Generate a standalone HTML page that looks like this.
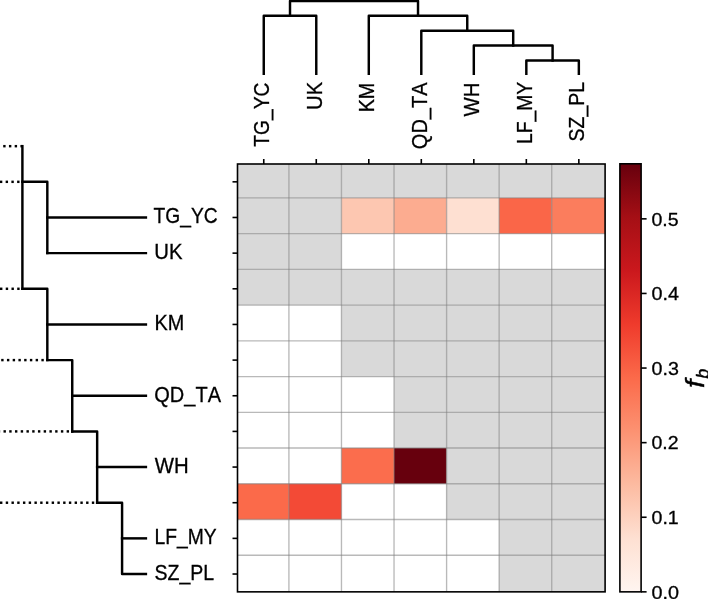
<!DOCTYPE html>
<html><head><meta charset="utf-8"><style>
html,body{margin:0;padding:0;background:#fff;width:708px;height:599px;overflow:hidden}
svg{display:block;position:absolute;left:0;top:0;will-change:transform}
text{font-family:"Liberation Sans",sans-serif;font-kerning:none;font-feature-settings:"kern" 0;}
</style></head><body>
<svg width="708" height="599" viewBox="0 0 708 599">
<rect x="0" y="0" width="708" height="599" fill="#ffffff"/>
<g>
<rect x="237.50" y="164.00" width="51.41" height="33.93" fill="#d9d9d9"/>
<rect x="288.91" y="164.00" width="52.56" height="33.93" fill="#d9d9d9"/>
<rect x="341.47" y="164.00" width="52.56" height="33.93" fill="#d9d9d9"/>
<rect x="394.03" y="164.00" width="52.56" height="33.93" fill="#d9d9d9"/>
<rect x="446.59" y="164.00" width="52.56" height="33.93" fill="#d9d9d9"/>
<rect x="499.15" y="164.00" width="52.56" height="33.93" fill="#d9d9d9"/>
<rect x="551.71" y="164.00" width="53.39" height="33.93" fill="#d9d9d9"/>
<rect x="237.50" y="197.93" width="51.41" height="35.73" fill="#d9d9d9"/>
<rect x="288.91" y="197.93" width="52.56" height="35.73" fill="#d9d9d9"/>
<rect x="341.47" y="197.93" width="52.56" height="35.73" fill="#fdc7b1"/>
<rect x="394.03" y="197.93" width="52.56" height="35.73" fill="#fcac90"/>
<rect x="446.59" y="197.93" width="52.56" height="35.73" fill="#fee0d2"/>
<rect x="499.15" y="197.93" width="52.56" height="35.73" fill="#fa6648"/>
<rect x="551.71" y="197.93" width="53.39" height="35.73" fill="#fb7d5d"/>
<rect x="237.50" y="233.66" width="51.41" height="35.73" fill="#d9d9d9"/>
<rect x="288.91" y="233.66" width="52.56" height="35.73" fill="#d9d9d9"/>
<rect x="237.50" y="269.39" width="51.41" height="35.73" fill="#d9d9d9"/>
<rect x="288.91" y="269.39" width="52.56" height="35.73" fill="#d9d9d9"/>
<rect x="341.47" y="269.39" width="52.56" height="35.73" fill="#d9d9d9"/>
<rect x="394.03" y="269.39" width="52.56" height="35.73" fill="#d9d9d9"/>
<rect x="446.59" y="269.39" width="52.56" height="35.73" fill="#d9d9d9"/>
<rect x="499.15" y="269.39" width="52.56" height="35.73" fill="#d9d9d9"/>
<rect x="551.71" y="269.39" width="53.39" height="35.73" fill="#d9d9d9"/>
<rect x="341.47" y="305.12" width="52.56" height="35.73" fill="#d9d9d9"/>
<rect x="394.03" y="305.12" width="52.56" height="35.73" fill="#d9d9d9"/>
<rect x="446.59" y="305.12" width="52.56" height="35.73" fill="#d9d9d9"/>
<rect x="499.15" y="305.12" width="52.56" height="35.73" fill="#d9d9d9"/>
<rect x="551.71" y="305.12" width="53.39" height="35.73" fill="#d9d9d9"/>
<rect x="341.47" y="340.85" width="52.56" height="35.73" fill="#d9d9d9"/>
<rect x="394.03" y="340.85" width="52.56" height="35.73" fill="#d9d9d9"/>
<rect x="446.59" y="340.85" width="52.56" height="35.73" fill="#d9d9d9"/>
<rect x="499.15" y="340.85" width="52.56" height="35.73" fill="#d9d9d9"/>
<rect x="551.71" y="340.85" width="53.39" height="35.73" fill="#d9d9d9"/>
<rect x="394.03" y="376.58" width="52.56" height="35.73" fill="#d9d9d9"/>
<rect x="446.59" y="376.58" width="52.56" height="35.73" fill="#d9d9d9"/>
<rect x="499.15" y="376.58" width="52.56" height="35.73" fill="#d9d9d9"/>
<rect x="551.71" y="376.58" width="53.39" height="35.73" fill="#d9d9d9"/>
<rect x="394.03" y="412.31" width="52.56" height="35.73" fill="#d9d9d9"/>
<rect x="446.59" y="412.31" width="52.56" height="35.73" fill="#d9d9d9"/>
<rect x="499.15" y="412.31" width="52.56" height="35.73" fill="#d9d9d9"/>
<rect x="551.71" y="412.31" width="53.39" height="35.73" fill="#d9d9d9"/>
<rect x="341.47" y="448.04" width="52.56" height="35.73" fill="#fb6d4d"/>
<rect x="394.03" y="448.04" width="52.56" height="35.73" fill="#67000d"/>
<rect x="446.59" y="448.04" width="52.56" height="35.73" fill="#d9d9d9"/>
<rect x="499.15" y="448.04" width="52.56" height="35.73" fill="#d9d9d9"/>
<rect x="551.71" y="448.04" width="53.39" height="35.73" fill="#d9d9d9"/>
<rect x="237.50" y="483.77" width="51.41" height="35.73" fill="#fb6a4a"/>
<rect x="288.91" y="483.77" width="52.56" height="35.73" fill="#f34a36"/>
<rect x="446.59" y="483.77" width="52.56" height="35.73" fill="#d9d9d9"/>
<rect x="499.15" y="483.77" width="52.56" height="35.73" fill="#d9d9d9"/>
<rect x="551.71" y="483.77" width="53.39" height="35.73" fill="#d9d9d9"/>
<rect x="499.15" y="519.50" width="52.56" height="35.73" fill="#d9d9d9"/>
<rect x="551.71" y="519.50" width="53.39" height="35.73" fill="#d9d9d9"/>
<rect x="499.15" y="555.23" width="52.56" height="36.62" fill="#d9d9d9"/>
<rect x="551.71" y="555.23" width="53.39" height="36.62" fill="#d9d9d9"/>
</g>
<g stroke="rgba(128,128,128,0.55)" stroke-width="1.35" fill="none">
<line x1="288.91" y1="164.00" x2="288.91" y2="591.85"/>
<line x1="341.47" y1="164.00" x2="341.47" y2="591.85"/>
<line x1="394.03" y1="164.00" x2="394.03" y2="591.85"/>
<line x1="446.59" y1="164.00" x2="446.59" y2="591.85"/>
<line x1="499.15" y1="164.00" x2="499.15" y2="591.85"/>
<line x1="551.71" y1="164.00" x2="551.71" y2="591.85"/>
<line x1="237.50" y1="197.93" x2="605.10" y2="197.93"/>
<line x1="237.50" y1="233.66" x2="605.10" y2="233.66"/>
<line x1="237.50" y1="269.39" x2="605.10" y2="269.39"/>
<line x1="237.50" y1="305.12" x2="605.10" y2="305.12"/>
<line x1="237.50" y1="340.85" x2="605.10" y2="340.85"/>
<line x1="237.50" y1="376.58" x2="605.10" y2="376.58"/>
<line x1="237.50" y1="412.31" x2="605.10" y2="412.31"/>
<line x1="237.50" y1="448.04" x2="605.10" y2="448.04"/>
<line x1="237.50" y1="483.77" x2="605.10" y2="483.77"/>
<line x1="237.50" y1="519.50" x2="605.10" y2="519.50"/>
<line x1="237.50" y1="555.23" x2="605.10" y2="555.23"/>
</g>
<rect x="237.50" y="164.00" width="367.60" height="427.85" fill="none" stroke="#000" stroke-width="1.60"/>
<g stroke="#000" stroke-width="1.60">
<line x1="263.76" y1="164.00" x2="263.76" y2="159.00"/>
<line x1="316.27" y1="164.00" x2="316.27" y2="159.00"/>
<line x1="368.79" y1="164.00" x2="368.79" y2="159.00"/>
<line x1="421.30" y1="164.00" x2="421.30" y2="159.00"/>
<line x1="473.81" y1="164.00" x2="473.81" y2="159.00"/>
<line x1="526.33" y1="164.00" x2="526.33" y2="159.00"/>
<line x1="578.84" y1="164.00" x2="578.84" y2="159.00"/>
<line x1="237.50" y1="181.83" x2="232.50" y2="181.83"/>
<line x1="237.50" y1="217.48" x2="232.50" y2="217.48"/>
<line x1="237.50" y1="253.14" x2="232.50" y2="253.14"/>
<line x1="237.50" y1="288.79" x2="232.50" y2="288.79"/>
<line x1="237.50" y1="324.44" x2="232.50" y2="324.44"/>
<line x1="237.50" y1="360.10" x2="232.50" y2="360.10"/>
<line x1="237.50" y1="395.75" x2="232.50" y2="395.75"/>
<line x1="237.50" y1="431.41" x2="232.50" y2="431.41"/>
<line x1="237.50" y1="467.06" x2="232.50" y2="467.06"/>
<line x1="237.50" y1="502.71" x2="232.50" y2="502.71"/>
<line x1="237.50" y1="538.37" x2="232.50" y2="538.37"/>
<line x1="237.50" y1="574.02" x2="232.50" y2="574.02"/>
</g>
<g stroke="#000" stroke-width="2.45" fill="none" stroke-linecap="square" stroke-linejoin="round">
<polyline points="526.33,73.80 526.33,60.50 578.84,60.50 578.84,73.80"/>
<polyline points="473.81,73.80 473.81,45.55 552.59,45.55 552.59,60.50"/>
<polyline points="421.30,73.80 421.30,30.65 513.20,30.65 513.20,45.55"/>
<polyline points="368.79,73.80 368.79,15.75 467.25,15.75 467.25,30.65"/>
<polyline points="263.76,73.80 263.76,15.75 316.27,15.75 316.27,73.80"/>
<polyline points="290.01,15.75 290.01,0.90 418.02,0.90 418.02,15.75"/>
</g>
<g stroke="#000" stroke-width="2.45" fill="none" stroke-linecap="square" stroke-linejoin="round">
<polyline points="22.40,146.17 22.40,288.79"/>
<polyline points="22.40,181.83 47.32,181.83 47.32,253.14"/>
<polyline points="47.32,217.48 145.90,217.48"/>
<polyline points="47.32,253.14 145.90,253.14"/>
<polyline points="22.40,288.79 47.32,288.79 47.32,360.10"/>
<polyline points="47.32,324.44 145.90,324.44"/>
<polyline points="47.32,360.10 72.24,360.10 72.24,431.41"/>
<polyline points="72.24,395.75 145.90,395.75"/>
<polyline points="72.24,431.41 97.16,431.41 97.16,502.71"/>
<polyline points="97.16,467.06 145.90,467.06"/>
<polyline points="97.16,502.71 122.08,502.71 122.08,574.02 145.90,574.02"/>
<polyline points="122.08,538.37 145.90,538.37"/>
</g>
<g fill="#000">
<rect x="3.20" y="144.95" width="2.40" height="2.45"/><rect x="8.94" y="144.95" width="2.40" height="2.45"/><rect x="14.68" y="144.95" width="2.40" height="2.45"/><rect x="20.42" y="144.95" width="1.98" height="2.45"/>
<rect x="0.00" y="180.60" width="2.30" height="2.45"/><rect x="5.64" y="180.60" width="2.40" height="2.45"/><rect x="11.38" y="180.60" width="2.40" height="2.45"/><rect x="17.12" y="180.60" width="2.40" height="2.45"/>
<rect x="0.00" y="287.56" width="2.40" height="2.45"/><rect x="5.74" y="287.56" width="2.40" height="2.45"/><rect x="11.48" y="287.56" width="2.40" height="2.45"/><rect x="17.22" y="287.56" width="2.40" height="2.45"/>
<rect x="1.20" y="358.87" width="2.40" height="2.45"/><rect x="6.94" y="358.87" width="2.40" height="2.45"/><rect x="12.68" y="358.87" width="2.40" height="2.45"/><rect x="18.42" y="358.87" width="2.40" height="2.45"/><rect x="24.16" y="358.87" width="2.40" height="2.45"/><rect x="29.90" y="358.87" width="2.40" height="2.45"/><rect x="35.64" y="358.87" width="2.40" height="2.45"/><rect x="41.38" y="358.87" width="2.40" height="2.45"/>
<rect x="0.00" y="430.18" width="0.16" height="2.45"/><rect x="3.50" y="430.18" width="2.40" height="2.45"/><rect x="9.24" y="430.18" width="2.40" height="2.45"/><rect x="14.98" y="430.18" width="2.40" height="2.45"/><rect x="20.72" y="430.18" width="2.40" height="2.45"/><rect x="26.46" y="430.18" width="2.40" height="2.45"/><rect x="32.20" y="430.18" width="2.40" height="2.45"/><rect x="37.94" y="430.18" width="2.40" height="2.45"/><rect x="43.68" y="430.18" width="2.40" height="2.45"/><rect x="49.42" y="430.18" width="2.40" height="2.45"/><rect x="55.16" y="430.18" width="2.40" height="2.45"/><rect x="60.90" y="430.18" width="2.40" height="2.45"/><rect x="66.64" y="430.18" width="2.40" height="2.45"/>
<rect x="0.00" y="501.49" width="2.40" height="2.45"/><rect x="5.74" y="501.49" width="2.40" height="2.45"/><rect x="11.48" y="501.49" width="2.40" height="2.45"/><rect x="17.22" y="501.49" width="2.40" height="2.45"/><rect x="22.96" y="501.49" width="2.40" height="2.45"/><rect x="28.70" y="501.49" width="2.40" height="2.45"/><rect x="34.44" y="501.49" width="2.40" height="2.45"/><rect x="40.18" y="501.49" width="2.40" height="2.45"/><rect x="45.92" y="501.49" width="2.40" height="2.45"/><rect x="51.66" y="501.49" width="2.40" height="2.45"/><rect x="57.40" y="501.49" width="2.40" height="2.45"/><rect x="63.14" y="501.49" width="2.40" height="2.45"/><rect x="68.88" y="501.49" width="2.40" height="2.45"/><rect x="74.62" y="501.49" width="2.40" height="2.45"/><rect x="80.36" y="501.49" width="2.40" height="2.45"/><rect x="86.10" y="501.49" width="2.40" height="2.45"/><rect x="91.84" y="501.49" width="2.40" height="2.45"/>
</g>
<g font-family="Liberation Sans, sans-serif" fill="#000" stroke="#000" stroke-width="0.3">
<text transform="translate(269.06,82.30) rotate(-90) translate(-64.39,0) scale(0.9063,1)" font-size="21.19">TG_YC</text>
<text transform="translate(321.57,82.30) rotate(-90) translate(-27.58,0) scale(0.9590,1)" font-size="21.19">UK</text>
<text transform="translate(374.09,82.30) rotate(-90) translate(-30.03,0) scale(0.9344,1)" font-size="21.19">KM</text>
<text transform="translate(426.60,82.30) rotate(-90) translate(-66.87,0) scale(0.9446,1)" font-size="21.19">QD_TA</text>
<text transform="translate(479.11,82.30) rotate(-90) translate(-34.24,0) scale(0.9613,1)" font-size="21.19">WH</text>
<text transform="translate(531.63,82.30) rotate(-90) translate(-61.74,0) scale(0.9107,1)" font-size="21.19">LF_MY</text>
<text transform="translate(584.14,82.30) rotate(-90) translate(-59.17,0) scale(0.9216,1)" font-size="21.19">SZ_PL</text>
<text transform="translate(153.61,223.28) scale(0.9063,1)" font-size="21.19">TG_YC</text>
<text transform="translate(154.27,258.94) scale(0.9590,1)" font-size="21.19">UK</text>
<text transform="translate(154.44,330.24) scale(0.9344,1)" font-size="21.19">KM</text>
<text transform="translate(154.27,401.55) scale(0.9446,1)" font-size="21.19">QD_TA</text>
<text transform="translate(154.67,472.86) scale(0.9613,1)" font-size="21.19">WH</text>
<text transform="translate(154.48,544.17) scale(0.9107,1)" font-size="21.19">LF_MY</text>
<text transform="translate(154.53,579.82) scale(0.9216,1)" font-size="21.19">SZ_PL</text>
</g>
<defs><linearGradient id="cb" x1="0" y1="1" x2="0" y2="0">
<stop offset="0.0000" stop-color="#fff5f0"/>
<stop offset="0.1250" stop-color="#fee0d2"/>
<stop offset="0.2500" stop-color="#fcbba1"/>
<stop offset="0.3750" stop-color="#fc9272"/>
<stop offset="0.5000" stop-color="#fb6a4a"/>
<stop offset="0.6250" stop-color="#ef3b2c"/>
<stop offset="0.7500" stop-color="#cb181d"/>
<stop offset="0.8750" stop-color="#a50f15"/>
<stop offset="1.0000" stop-color="#67000d"/>
</linearGradient></defs>
<rect x="619.90" y="163.80" width="21.20" height="428.05" fill="url(#cb)"/>
<rect x="619.90" y="163.80" width="21.20" height="428.05" fill="none" stroke="#000" stroke-width="1.60"/>
<g stroke="#000" stroke-width="1.60">
<line x1="641.10" y1="591.85" x2="646.60" y2="591.85"/>
<line x1="641.10" y1="517.25" x2="646.60" y2="517.25"/>
<line x1="641.10" y1="442.65" x2="646.60" y2="442.65"/>
<line x1="641.10" y1="368.05" x2="646.60" y2="368.05"/>
<line x1="641.10" y1="293.45" x2="646.60" y2="293.45"/>
<line x1="641.10" y1="218.85" x2="646.60" y2="218.85"/>
</g>
<g font-family="Liberation Sans, sans-serif" fill="#000" stroke="#000" stroke-width="0.3">
<text transform="translate(651.50,598.55) scale(1.0488,1)" font-size="18.86">0.0</text>
<text transform="translate(651.51,523.95) scale(1.0379,1)" font-size="18.86">0.1</text>
<text transform="translate(651.51,449.35) scale(1.0334,1)" font-size="18.86">0.2</text>
<text transform="translate(651.51,374.75) scale(1.0428,1)" font-size="18.86">0.3</text>
<text transform="translate(651.50,300.15) scale(1.0483,1)" font-size="18.86">0.4</text>
<text transform="translate(651.51,225.55) scale(1.0360,1)" font-size="18.86">0.5</text>
</g>
<g font-family="Liberation Sans, sans-serif" font-style="italic" fill="#000" stroke="#000" stroke-width="0.45" transform="translate(703.5,388.0) rotate(-90)">
<text x="0" y="0" font-size="25.47" transform="scale(1.15,1)">f</text>
<text x="9.30" y="5.1" font-size="17.90">b</text>
</g>
</svg>
</body></html>
